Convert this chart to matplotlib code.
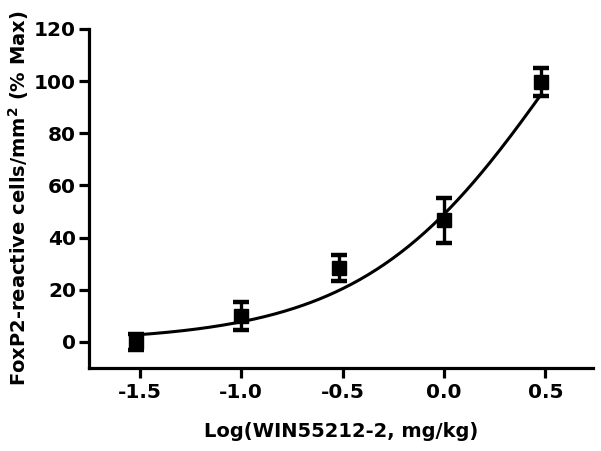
import numpy as np
import matplotlib
matplotlib.use("Agg")
import matplotlib.pyplot as plt

# Data
log_dose = [-1.52, -1.0, -0.52, 0.0, 0.48]
response = [0.0, 9.9, 28.4, 46.7, 99.8]
sem = [3.2, 5.3, 5.0, 8.6, 5.4]

# Fitted sigmoidal dose-response parameters (estimated from the drawn curve)
fit_bottom = 0.0
fit_top = 211.6
fit_logec50 = 0.579
fit_hill = 0.9

xticks = [-1.5, -1.0, -0.5, 0.0, 0.5]
xticklabels = ["-1.5", "-1.0", "-0.5", "0.0", "0.5"]
yticks = [0, 20, 40, 60, 80, 100, 120]

plt.rcParams['font.family'] = ['DejaVu Sans']
plt.rcParams['font.weight'] = 'bold'
plt.rcParams['mathtext.default'] = 'bf'

fig = plt.figure(figsize=(6.01, 4.51), dpi=100)
ax = fig.add_axes([0.1486, 0.184, 0.838, 0.7517])

xf = np.linspace(min(log_dose), max(log_dose), 200)
yf = fit_bottom + (fit_top - fit_bottom) / (1 + 10 ** ((fit_logec50 - xf) * fit_hill))
ax.plot(xf, yf, color='black', lw=2.2, zorder=2)

ax.errorbar(log_dose, response, yerr=sem, fmt='s', color='black', ms=9.5,
            elinewidth=2.4, capsize=6, capthick=3.2, zorder=3)

ax.set_xlim(-1.75, 0.735)
ax.set_ylim(-10, 120)
ax.set_xticks(xticks)
ax.set_xticklabels(xticklabels)
ax.set_yticks(yticks)

for s in ['top', 'right']:
    ax.spines[s].set_visible(False)
for s in ['left', 'bottom']:
    ax.spines[s].set_linewidth(2.3)
ax.tick_params(axis='x', width=2.3, length=7, labelsize=14.5, pad=3.5)
ax.tick_params(axis='y', width=2.3, length=7, labelsize=14.5, pad=2.5)
for lab in ax.get_xticklabels() + ax.get_yticklabels():
    lab.set_fontweight('bold')

ax.set_xlabel('Log(WIN55212-2, mg/kg)', fontsize=14, fontweight='bold', labelpad=14.5)
ax.set_ylabel('FoxP2-reactive cells/mm$^2$ (% Max)', fontsize=14, fontweight='bold', labelpad=2)

fig.savefig('out.png', dpi=100)
